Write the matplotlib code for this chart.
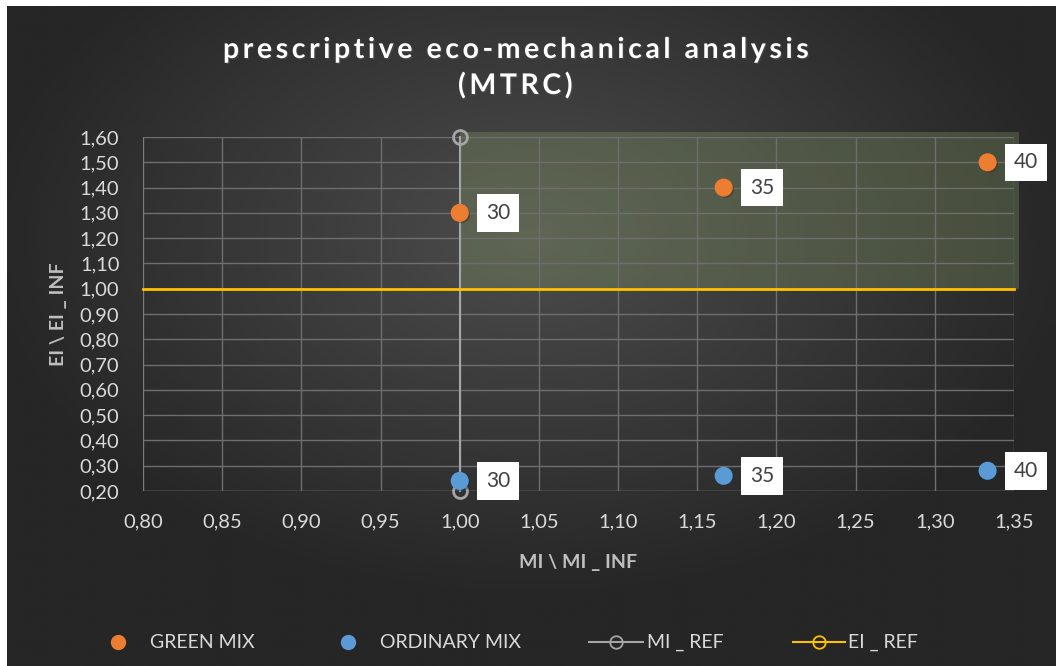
import matplotlib.pyplot as plt
import matplotlib.patheffects as pe
from matplotlib.lines import Line2D
from matplotlib.patches import Rectangle
import numpy as np

plt.rcParams["font.family"] = ["Lato", "DejaVu Sans"]

# mix proportions (%)
mix_labels = ["30", "35", "40"]
# MI / MI_INF
mi_ratio = [1.0, 7 / 6, 4 / 3]
# EI / EI_INF
green_ei = [1.30, 1.40, 1.50]
ordinary_ei = [0.24, 0.26, 0.28]

# reference lines
mi_ref_x = [1.0, 1.0]
mi_ref_y = [0.20, 1.60]
ei_ref_x = [0.80, 1.35]
ei_ref_y = [1.0, 1.0]

x_ticks = np.arange(0.80, 1.351, 0.05)
y_ticks = np.arange(0.20, 1.601, 0.10)

legend_labels = ["GREEN MIX", "ORDINARY MIX", "MI _ REF", "EI _ REF"]

ORANGE = "#ED7D31"
BLUE = "#5B9BD5"
GREY_REF = "#A5A5A5"
YELLOW = "#FFC000"
TXT = "#D9D9D9"

W, H = 1056, 666
fig = plt.figure(figsize=(W / 100, H / 100), dpi=100, facecolor="white")

# dark radial gradient behind everything
bg = fig.add_axes([7 / W, 0, 1 - 7 / W, 1 - 6 / H], zorder=-10)
gx, gy = np.meshgrid(np.linspace(-1, 1, 400), np.linspace(-1, 1, 300))
r = np.sqrt((gx / 1.05) ** 2 + ((gy + 0.3) / 1.1) ** 2)
shade = np.clip(0.30 - 0.15 * r, 0.15, 0.30)
bg.imshow(shade, cmap="gray", vmin=0, vmax=1, aspect="auto",
          extent=[0, 1, 0, 1], interpolation="bicubic")
bg.axis("off")

ax = fig.add_axes([143 / W, 1 - 491 / H, (1014 - 143) / W, (491 - 137) / H])
ax.patch.set_alpha(0)

ax.set_xlim(0.80, 1.35)
ax.set_ylim(0.20, 1.60)
ax.set_xticks(x_ticks)
ax.set_yticks(y_ticks)
ax.set_xticklabels([f"{v:.2f}".replace(".", ",") for v in x_ticks])
ax.set_yticklabels([f"{v:.2f}".replace(".", ",") for v in y_ticks])
ax.tick_params(length=0, colors=TXT, labelsize=14.5)
ax.tick_params(axis="x", pad=16)
ax.tick_params(axis="y", pad=17)
ax.grid(True, color="#6e6e6e", linewidth=1)
for s in ax.spines.values():
    s.set_visible(False)
ax.axvline(0.80, color="#808080", lw=1.2)
ax.axhline(0.20, color="#6e6e6e", lw=1.0)

# favourable zone
ax.add_patch(Rectangle((1.0, 1.0), 0.353, 0.62, facecolor="#8aa26a", alpha=0.3,
                       edgecolor="none", clip_on=False, zorder=1))

ax.plot(mi_ref_x, mi_ref_y, color=GREY_REF, lw=1.5, marker="o", ms=10,
        mfc="none", mec=GREY_REF, mew=2, clip_on=False, zorder=3)
ax.plot(ei_ref_x, ei_ref_y, color=YELLOW, lw=2, clip_on=False, zorder=3)

shadow = [pe.SimplePatchShadow(offset=(1.5, -1.5), alpha=0.4), pe.Normal()]
ax.plot(mi_ratio, green_ei, "o", color=ORANGE, ms=12, zorder=5, clip_on=False,
        path_effects=shadow)
ax.plot(mi_ratio, ordinary_ei, "o", color=BLUE, ms=12, zorder=4, clip_on=False,
        path_effects=shadow)

box = dict(boxstyle="square,pad=0.42", facecolor="white", edgecolor="none")
for xs, ys in [(mi_ratio, green_ei), (mi_ratio, ordinary_ei)]:
    for x, y, lab in zip(xs, ys, mix_labels):
        ax.annotate(lab, (x, y), xytext=(19, 0), textcoords="offset points",
                    ha="left", va="center", fontsize=15, color="#404040",
                    bbox=box, zorder=6, annotation_clip=False)

ax.set_xlabel("MI \\ MI _ INF", color="#BFBFBF", fontsize=14, fontweight="bold",
              labelpad=17)
ax.set_ylabel("EI \\ EI _ INF", color="#BFBFBF", fontsize=14, fontweight="bold",
              labelpad=9)

# spaced-out title
title = "prescriptive eco-mechanical analysis\n(MTRC)"
title = "\n".join("\u200a\u200a".join(line) for line in title.split("\n"))
fig.text(515 / W, 1 - 68 / H, title,
         ha="center", va="center", color="white", fontsize=20.5, fontweight="bold",
         linespacing=1.4,
         path_effects=[pe.withSimplePatchShadow(offset=(1, -1), alpha=0.6)])

# legend row along the bottom
ly = 1 - 642 / H
fig.add_artist(Line2D([118 / W], [ly], ls="none", marker="o", color=ORANGE, ms=10))
fig.add_artist(Line2D([348 / W], [ly], ls="none", marker="o", color=BLUE, ms=10))
fig.add_artist(Line2D([589 / W, 643 / W], [ly, ly], color=GREY_REF, lw=1.5))
fig.add_artist(Line2D([616 / W], [ly], ls="none", marker="o", mfc="none",
                      mec=GREY_REF, ms=9, mew=1.3))
fig.add_artist(Line2D([793 / W, 845 / W], [ly, ly], color=YELLOW, lw=1.5))
fig.add_artist(Line2D([819 / W], [ly], ls="none", marker="o", mfc="none",
                      mec=YELLOW, ms=9, mew=1.3))
for x0, lab in zip([150, 380, 647, 848], legend_labels):
    fig.text(x0 / W, ly, lab, ha="left", va="center", color=TXT, fontsize=14)

fig.savefig("out.png", dpi=100, facecolor="white")
